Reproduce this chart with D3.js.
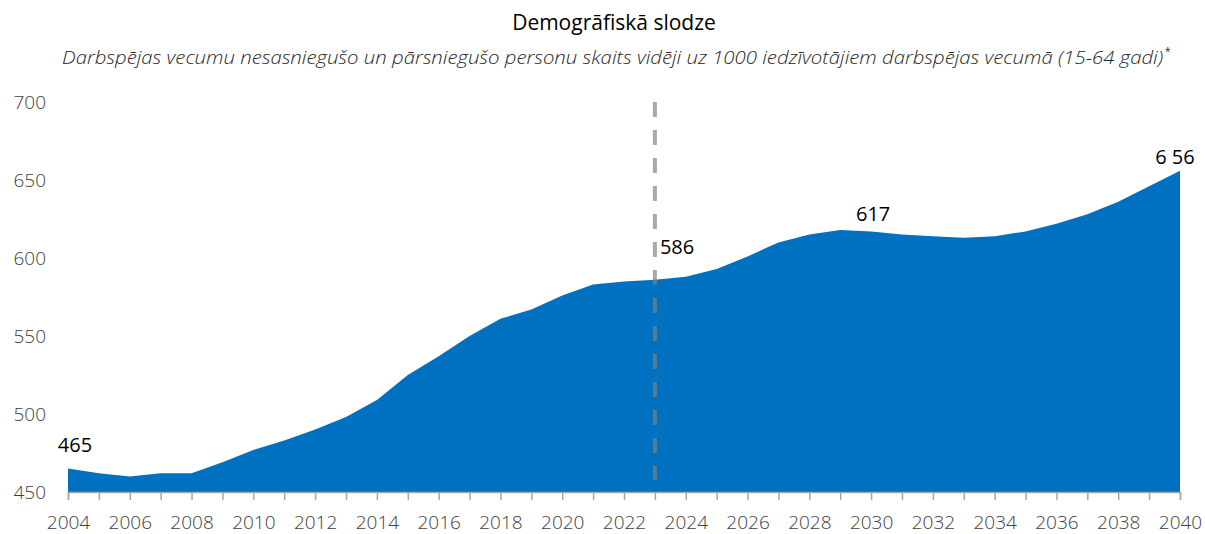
<!DOCTYPE html>
<html lang="lv">
<head>
<meta charset="utf-8">
<script src="https://cdn.jsdelivr.net/npm/d3@7/dist/d3.min.js"></script>
<style>
  html, body { margin: 0; padding: 0; background: #fff; }
  svg { display: block; font-family: "Open Sans", "Noto Sans", sans-serif; }
</style>
</head>
<body>
<svg id="chart" width="1205" height="534"></svg>
<script>
// Demographic load: persons below and above working age per 1000 of working age
const years = d3.range(2004, 2041);
const load = [
  465, 462, 460, 462, 462, 469, 477, 483, 490, 498,
  509, 525, 537, 550, 561, 567, 576, 583, 585, 586,
  588, 593, 601, 610, 615, 618, 617, 615, 614, 613,
  614, 617, 622, 628, 636, 646, 656
];
const yTicks = [450, 500, 550, 600, 650, 700];
const xTickLabels = d3.range(2004, 2041, 2);
const forecastStart = 2023;
// annotated points: year, value, printed text
const callouts = [
  { year: 2004, value: 465, text: "465" },
  { year: 2023, value: 586, text: "586" },
  { year: 2030, value: 617, text: "617" },
  { year: 2040, value: 656, text: "6 56" }
];
const titleText = "Demogrāfiskā slodze";
const subtitleText = "Darbspējas vecumu nesasniegušo un pārsniegušo personu skaits vidēji uz 1000 iedzīvotājiem darbspējas vecumā (15-64 gadi)";

const svg = d3.select("#chart");
const margin = { left: 68, right: 25, top: 102, bottom: 42 };
const W = 1205, H = 534;

const x = d3.scaleLinear().domain([2004, 2040]).range([margin.left, W - margin.right]);
const y = d3.scaleLinear().domain([450, 700]).range([H - margin.bottom, margin.top]);

const data = years.map((yr, i) => ({ year: yr, value: load[i] }));

// titles
svg.append("text")
  .attr("x", 614).attr("y", 30)
  .attr("text-anchor", "middle")
  .attr("font-size", 21).attr("fill", "#000")
  .text(titleText);

svg.append("text")
  .attr("x", 62).attr("y", 64)
  .attr("font-size", 19).attr("font-style", "italic").attr("font-weight", 300)
  .attr("textLength", 1101).attr("lengthAdjust", "spacingAndGlyphs")
  .attr("fill", "#262626")
  .text(subtitleText);
svg.append("text")
  .attr("x", 1165).attr("y", 55)
  .attr("font-size", 10).attr("fill", "#262626")
  .text("*");

// area
const area = d3.area()
  .x(d => x(d.year))
  .y0(y(450))
  .y1(d => y(d.value));

svg.append("path")
  .datum(data)
  .attr("d", area)
  .attr("fill", "#0070c0");

// forecast divider
svg.append("line")
  .attr("x1", x(forecastStart)).attr("x2", x(forecastStart))
  .attr("y1", y(700)).attr("y2", y(450) - 12)
  .attr("stroke", "#808080").attr("stroke-opacity", 0.68)
  .attr("stroke-width", 4)
  .attr("stroke-dasharray", "15 13");

// x axis: a tick per year, labels every second year
const xAxis = d3.axisBottom(x)
  .tickValues(years)
  .tickSize(8)
  .tickFormat(d => xTickLabels.includes(d) ? String(d) : "");
const gx = svg.append("g")
  .attr("transform", `translate(0,${y(450)})`)
  .call(xAxis);
gx.select(".domain").attr("stroke", "#a6a6a6").attr("stroke-width", 1.5);
gx.selectAll(".tick line").attr("stroke", "#a6a6a6").attr("stroke-width", 1.5);
gx.selectAll(".tick text")
  .attr("y", 31).attr("dy", "0.32em")
  .attr("font-size", 19).attr("font-weight", 300)
  .attr("font-family", "'Open Sans', sans-serif")
  .attr("fill", "#404040");

// y axis labels only
const yAxis = d3.axisLeft(y).tickValues(yTicks).tickSize(0).tickPadding(0);
const gy = svg.append("g")
  .attr("transform", `translate(46,0)`)
  .call(yAxis);
gy.select(".domain").remove();
gy.selectAll(".tick text")
  .attr("font-size", 19).attr("font-weight", 300)
  .attr("font-family", "'Open Sans', sans-serif")
  .attr("fill", "#404040");

// value callouts
const calloutPos = {
  2004: { dx: 7, dy: -24, anchor: "middle" },
  2023: { dx: 5, dy: -33, anchor: "start" },
  2030: { dx: 2, dy: -17, anchor: "middle" },
  2040: { dx: -5, dy: -14, anchor: "middle" }
};
svg.append("g").selectAll("text")
  .data(callouts)
  .join("text")
  .attr("x", d => x(d.year) + calloutPos[d.year].dx)
  .attr("y", d => y(d.value) + calloutPos[d.year].dy)
  .attr("dy", "0.35em")
  .attr("text-anchor", d => calloutPos[d.year].anchor)
  .attr("font-size", 20)
  .attr("fill", "#000")
  .text(d => d.text);
</script>
</body>
</html>
